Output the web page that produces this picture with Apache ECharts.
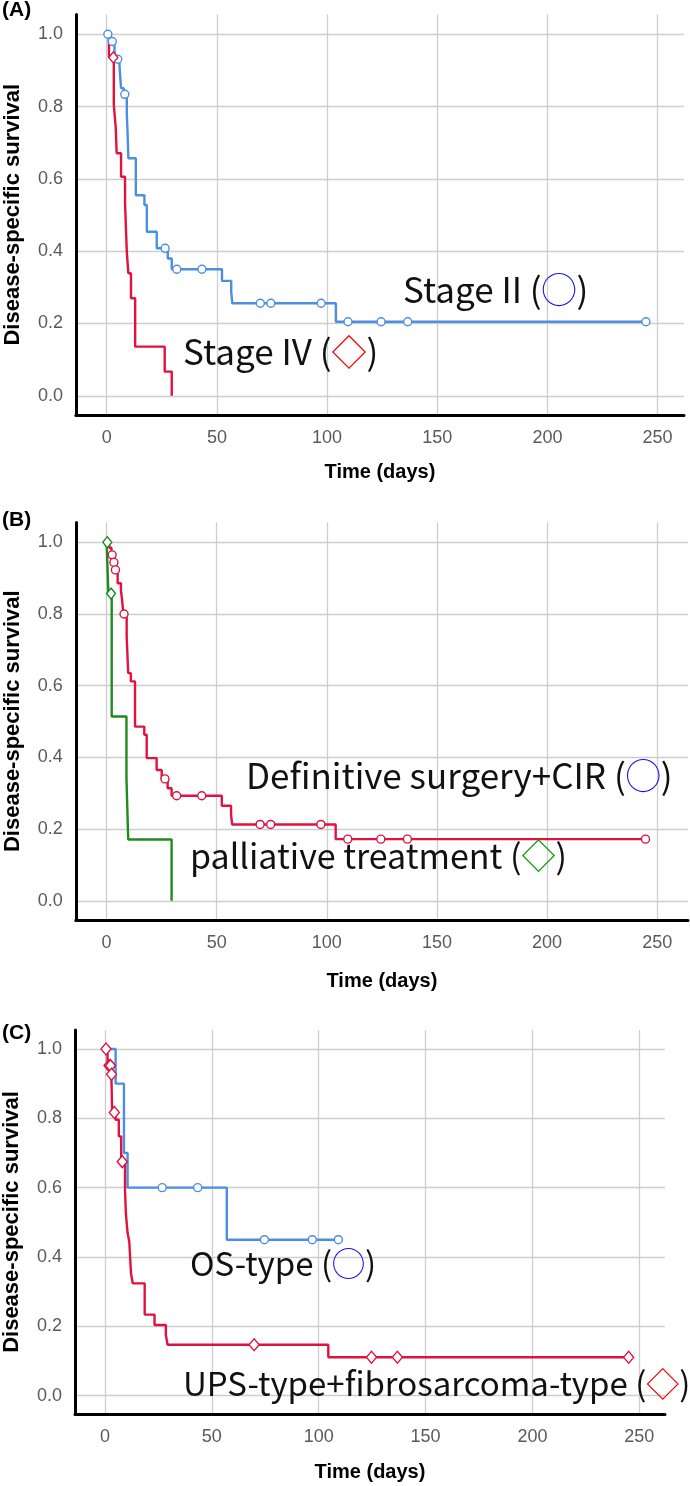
<!DOCTYPE html>
<html>
<head>
<meta charset="utf-8">
<script src="https://cdn.jsdelivr.net/npm/echarts@6/dist/echarts.min.js"></script>
<style>
html,body{margin:0;padding:0;background:#ffffff;}
#chart{width:690px;height:1486px;}
</style>
</head>
<body>
<div id="chart"></div>
<script>
// ---------- tick values / labels ----------
const xTickValues = [0, 50, 100, 150, 200, 250];
const yTickValues = [0, 0.2, 0.4, 0.6, 0.8, 1.0];
const xAxisTitle = 'Time (days)';
const yAxisTitle = 'Disease-specific survival';
const panelLabels = ['(A)', '(B)', '(C)'];

// ---------- Panel A ----------
const stage2Times = [0, 1, 3.5, 4.2, 5.8, 6.5, 7.7, 9.1, 9.5, 9.8, 13.2, 17.1, 18.2, 22.7, 27.7, 29.5, 52.3, 56.5, 57, 104, 244.7];
const stage2Surv  = [1, 0.98, 0.955, 0.931, 0.91, 0.851, 0.834, 0.781, 0.72, 0.657, 0.555, 0.528, 0.454, 0.408, 0.38, 0.35, 0.318, 0.287, 0.256, 0.205, 0.205];
const stage2Censor = [0.5, 2.5, 5, 8.2, 26.5, 31.8, 43.2, 69.7, 74.5, 97.3, 109.5, 124.5, 136.6, 244.7];

const stage4Times = [0, 1, 3.2, 4.1, 4.5, 6.5, 8.3, 9.1, 9.8, 11, 12.9, 26.3, 29.5];
const stage4Surv  = [1, 0.936, 0.805, 0.74, 0.671, 0.606, 0.533, 0.399, 0.339, 0.27, 0.136, 0.067, 0];
const stage4Censor = [3];

// ---------- Panel B ----------
const surgeryTimes = [0, 1.2, 2.2, 3, 3.8, 5, 6.5, 7, 7.6, 9.1, 9.8, 11, 12.9, 17.1, 18.2, 22.7, 25, 27.7, 29.5, 52.3, 56.5, 57, 104, 244.7];
const surgerySurv  = [1, 0.985, 0.965, 0.944, 0.923, 0.886, 0.865, 0.84, 0.80, 0.737, 0.635, 0.612, 0.486, 0.463, 0.398, 0.365, 0.34, 0.314, 0.293, 0.265, 0.24, 0.213, 0.172, 0.172];
const surgeryCensor = [2.5, 3.3, 4, 7.9, 26.5, 31.8, 43.2, 69.7, 74.5, 97.3, 109.5, 124.5, 136.6, 244.7];

const palliativeTimes = [0, 0.8, 2.3, 9.0, 9.8, 29.5];
const palliativeSurv  = [1, 0.857, 0.514, 0.343, 0.171, 0];
const palliativeCensor = [0.3, 2];

// ---------- Panel C ----------
const osTimes = [0, 5, 8.9, 10.6, 57, 109.2];
const osSurv  = [1, 0.9, 0.7, 0.6, 0.45, 0.45];
const osCensor = [26.8, 43.4, 74.6, 97, 109.2];

const upsTimes = [0, 1.2, 3, 3.4, 5, 6.5, 7.6, 9.4, 9.8, 10.6, 11.4, 12.2, 13, 18.6, 23.2, 28.5, 29.3, 104.5, 245];
const upsSurv  = [1, 0.952, 0.927, 0.817, 0.796, 0.748, 0.675, 0.594, 0.526, 0.469, 0.444, 0.353, 0.324, 0.234, 0.204, 0.175, 0.147, 0.111, 0.111];
const upsCensor = [0.5, 1.9, 2.6, 3.1, 4.4, 8.1, 69.8, 124.7, 136.8, 245];

// ---------- styling ----------
const BLUE = '#4a8fe0';
const RED = '#e0123f';
const GREEN = '#1f8a1f';
const TICK_FONT = '"Liberation Sans", Arial, sans-serif';
const NOTE_FONT = '"Noto Sans CJK JP", "Noto Sans", sans-serif';

const panels = [
  { top: 14.4, height: 400.6, left: 75.9, xMax: 262, gridRightEdge: 684, nameGap: 47 },
  { top: 522.6, height: 397.2, left: 75.8, xMax: 264, gridRightEdge: 688, nameGap: 52 },
  { top: 1029.9, height: 384.2, left: 75, xMax: 262, gridRightEdge: 665, nameGap: 48 }
];
const xMin = -14, yMin = -0.053, yMax = 1.055;

function survAt(times, surv, t) {
  let s = surv[0];
  for (let i = 0; i < times.length; i++) { if (times[i] <= t) s = surv[i]; }
  return s;
}

const grids = [], xAxes = [], yAxes = [];
panels.forEach((p, i) => {
  grids.push({ left: p.left, top: p.top, height: p.height, width: p.gridRightEdge - p.left,
               containLabel: false, outerBoundsMode: 'none', show: false });
  xAxes.push({
    type: 'value', gridIndex: i, min: xMin, max: p.xMax,
    axisLine: { show: true, onZero: false, lineStyle: { color: '#000', width: 3 } },
    axisTick: { show: false, customValues: xTickValues },
    axisLabel: { customValues: xTickValues, color: '#5a5a5a', fontSize: 18, margin: 14, fontFamily: TICK_FONT },
    splitLine: { show: true, lineStyle: { color: '#cdcdcd', width: 1.3 } },
    name: xAxisTitle, nameLocation: 'middle', nameGap: p.nameGap, nameMoveOverlap: false,
    nameTextStyle: { fontWeight: 'bold', fontSize: 20, color: '#000', fontFamily: TICK_FONT }
  });
  yAxes.push({
    type: 'value', gridIndex: i, min: yMin, max: yMax,
    axisLine: { show: true, onZero: false, lineStyle: { color: '#000', width: 3 } },
    axisTick: { show: false, customValues: yTickValues },
    axisLabel: { customValues: yTickValues, color: '#5a5a5a', fontSize: 18, margin: 13, fontFamily: TICK_FONT,
                 formatter: v => v.toFixed(1) },
    splitLine: { show: true, lineStyle: { color: '#cdcdcd', width: 1.3 } },
    name: yAxisTitle, nameLocation: 'middle', nameGap: 52, nameRotate: 90, nameMoveOverlap: false,
    nameTextStyle: { fontWeight: 'bold', fontSize: 22, color: '#000', fontFamily: TICK_FONT }
  });
});

function curve(idx, times, surv, color) {
  return { type: 'line', xAxisIndex: idx, yAxisIndex: idx, step: 'end', showSymbol: false, silent: true,
           data: times.map((t, i) => [t, surv[i]]),
           lineStyle: { color: color, width: 2.4 }, itemStyle: { color: color }, z: 3 };
}
function censor(idx, times, surv, cens, color, symbol, size) {
  return { type: 'scatter', xAxisIndex: idx, yAxisIndex: idx, symbol: symbol, symbolSize: size, silent: true,
           data: cens.map(t => [t, survAt(times, surv, t)]),
           itemStyle: { color: '#ffffff', borderColor: color, borderWidth: 1.4, opacity: 1 }, z: 4 };
}

const series = [
  curve(0, stage4Times, stage4Surv, RED),
  curve(0, stage2Times, stage2Surv, BLUE),
  censor(0, stage2Times, stage2Surv, stage2Censor, BLUE, 'circle', 8),
  censor(0, stage4Times, stage4Surv, stage4Censor, RED, 'diamond', [9, 11]),
  curve(1, palliativeTimes, palliativeSurv, GREEN),
  curve(1, surgeryTimes, surgerySurv, RED),
  censor(1, surgeryTimes, surgerySurv, surgeryCensor, RED, 'circle', 8),
  censor(1, palliativeTimes, palliativeSurv, palliativeCensor, GREEN, 'diamond', [9, 11]),
  curve(2, osTimes, osSurv, BLUE),
  curve(2, upsTimes, upsSurv, RED),
  censor(2, osTimes, osSurv, osCensor, BLUE, 'circle', 8),
  censor(2, upsTimes, upsSurv, upsCensor, RED, 'diamond', [10, 12])
];

function note(x, y, label, sym, symColor, size) {
  return { type: 'text', x: x, y: y, z: 10, silent: true,
    style: { text: '{t|' + label + ' (}{s|' + sym + '}{t|)}', align: 'left', verticalAlign: 'middle',
      rich: { t: { fontFamily: NOTE_FONT, fontSize: size, fill: '#111' },
              s: { fontFamily: NOTE_FONT, fontSize: size, fill: symColor } } } };
}
const CIRCLE = '\u25EF', DIAMOND = '\u25C7';
const graphics = [
  note(403, 290, 'Stage II', CIRCLE, '#1414e6', 35),
  note(183, 352, 'Stage IV', DIAMOND, '#f01010', 35),
  note(246, 776, 'Definitive surgery+CIR', CIRCLE, '#1414e6', 35),
  note(190, 856, 'palliative treatment', DIAMOND, '#10a010', 34),
  note(190, 1263, 'OS-type', CIRCLE, '#1414e6', 33),
  note(183, 1383, 'UPS-type+fibrosarcoma-type', DIAMOND, '#f01010', 33)
];
const labelY = [10, 520, 1033];
panelLabels.forEach((t, i) => {
  graphics.push({ type: 'text', x: 2, y: labelY[i], silent: true,
    style: { text: t, fontFamily: TICK_FONT, fontWeight: 'bold', fontSize: 21, fill: '#000', align: 'left', verticalAlign: 'middle' } });
});

const chart = echarts.init(document.getElementById('chart'), null, { renderer: 'canvas' });
chart.setOption({
  animation: false,
  backgroundColor: '#ffffff',
  grid: grids, xAxis: xAxes, yAxis: yAxes,
  series: series,
  graphic: graphics
});
</script>
</body>
</html>
